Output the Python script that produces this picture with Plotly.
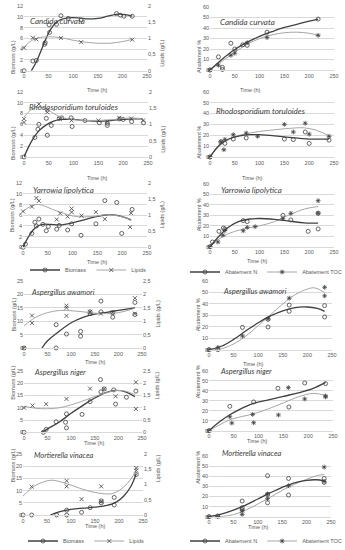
import plotly.graph_objects as go

# ---------------- data ----------------
TIME_TICKS = [0, 50, 100, 150, 200, 250]

# Candida curvata
CC_BIO_T = [0, 18, 25, 42, 43, 51, 52, 66, 75, 90, 116, 188, 196, 203, 220]
CC_BIO = [0, 1.8, 1.9, 4.9, 5.2, 8.5, 7.1, 8.6, 10.2, 9.7, 9.4, 10.6, 10.3, 10.1, 10.1]
CC_LIP_T = [0, 18, 25, 75, 116, 220]
CC_LIP = [0.71, 1.02, 0.97, 1.01, 0.88, 0.96]
CC_BIO_FIT_T = [15, 25, 35, 45, 55, 65, 75, 90, 110, 130, 150, 170, 190, 205, 220]
CC_BIO_FIT = [0, 1.6, 3.8, 6.0, 7.8, 8.9, 9.5, 9.8, 9.8, 9.6, 9.7, 10.1, 10.5, 10.4, 10.1]
CC_LIP_FIT_T = [0, 15, 30, 50, 75, 100, 125, 150, 175, 200, 220]
CC_LIP_FIT = [0.72, 0.93, 1.02, 1.05, 1.02, 0.94, 0.88, 0.85, 0.85, 0.90, 0.97]
CC_N_T = [0, 17, 25, 25, 42, 50, 66, 75, 115, 218]
CC_N = [0, 12.5, 2.5, 0.5, 25.5, 20, 24, 23.5, 36, 48.5]
CC_TOC_T = [0, 17, 42, 50, 75, 115, 218]
CC_TOC = [0, 4.5, 14, 16, 26, 31, 33]
CC_N_FIT_T = [0, 25, 50, 75, 100, 125, 150, 175, 200, 218]
CC_N_FIT = [0, 10.5, 19.5, 26.5, 32, 36.5, 40.5, 43.5, 46.5, 48.5]
CC_TOC_FIT_T = [0, 25, 50, 75, 100, 125, 150, 175, 200, 218]
CC_TOC_FIT = [0, 8.5, 17, 24.5, 30, 33.5, 35.5, 36, 35, 33]

# Rhodosporidium toruloides
RT_BIO_T = [0, 22, 28, 30, 45, 47, 55, 71, 76, 95, 97, 123, 152, 168, 168, 193, 200, 217, 241]
RT_BIO = [0, 3.6, 5.1, 6.0, 7.1, 4.0, 5.8, 7.1, 7.2, 7.2, 5.6, 6.7, 6.3, 6.2, 5.8, 7.0, 6.9, 6.5, 6.3]
RT_LIP_T = [0, 0, 30, 47, 47, 72, 96, 150, 168, 192, 216, 240]
RT_LIP = [1.17, 1.06, 1.62, 1.45, 1.37, 1.17, 1.12, 1.12, 1.08, 1.2, 1.18, 1.12]
RT_BIO_FIT_T = [0, 10, 20, 30, 45, 60, 75, 100, 125, 150, 175, 200, 220, 240]
RT_BIO_FIT = [0, 2.0, 3.6, 4.8, 5.9, 6.6, 6.9, 6.9, 6.7, 6.6, 6.7, 6.9, 7.0, 7.0]
RT_LIP_FIT_T = [0, 15, 30, 45, 60, 75, 100, 125, 150, 175, 200, 220, 240]
RT_LIP_FIT = [1.22, 1.45, 1.53, 1.48, 1.33, 1.22, 1.14, 1.12, 1.12, 1.14, 1.18, 1.19, 1.17]
RT_N_T = [0, 22, 30, 47, 73, 150, 168, 192, 200, 240]
RT_N = [0, 14, 12.5, 16.5, 17.5, 16.5, 16, 23, 12.5, 15.5]
RT_TOC_T = [0, 22, 28, 30, 47, 73, 96, 150, 168, 192, 200, 240]
RT_TOC = [0, 14, 6.7, 16.2, 20.5, 22, 19, 30, 23, 31, 21, 19]
RT_N_FIT_T = [0, 20, 40, 60, 80, 100, 130, 160, 200, 240]
RT_N_FIT = [0, 11.5, 17, 19.5, 20.5, 20.5, 19.5, 18, 16.5, 16.5]
RT_TOC_FIT_T = [0, 20, 40, 60, 80, 100, 130, 160, 190, 215, 240]
RT_TOC_FIT = [0, 10.5, 16.5, 20, 22, 23.5, 25, 26.3, 26.8, 24.5, 19.5]

# Yarrowia lipolytica
YL_BIO_T = [0, 5, 18, 24, 27, 32, 40, 47, 51, 68, 73, 90, 98, 117, 147, 165, 189, 199, 220]
YL_BIO = [0, 0.6, 2.6, 4.7, 4.0, 5.3, 4.3, 3.1, 3.9, 3.4, 4.1, 3.25, 4.4, 2.25, 4.4, 8.75, 8.4, 2.6, 7.1]
YL_LIP_T = [0, 18, 27, 32, 68, 75, 90, 98, 98, 118, 147, 165, 216, 218]
YL_LIP = [1.12, 1.27, 1.54, 1.45, 0.87, 1.06, 0.96, 1.21, 1.1, 0.99, 1.1, 0.88, 0.63, 1.07]
YL_BIO_FIT_T = [0, 10, 20, 30, 40, 55, 75, 100, 125, 150, 170, 190, 205, 218]
YL_BIO_FIT = [0, 1.8, 3.2, 4.0, 4.3, 4.3, 4.2, 4.6, 5.2, 5.8, 6.1, 6.0, 5.6, 5.1]
YL_LIP_FIT_T = [0, 15, 30, 45, 60, 75, 100, 125, 150, 170, 195, 218]
YL_LIP_FIT = [1.12, 1.28, 1.34, 1.28, 1.18, 1.10, 0.98, 0.95, 0.98, 1.02, 0.97, 0.87]
YL_N_T = [0, 5, 18, 27, 30, 67, 75, 147, 163, 198, 218, 218]
YL_N = [0, 4.5, 14.7, 17.9, 17, 25, 24, 30, 25.6, 14.7, 32, 17]
YL_TOC_T = [0, 16, 26, 30, 67, 75, 91, 147, 163, 218, 218]
YL_TOC = [0, 4.5, 11, 15.5, 15.3, 18.5, 19.2, 26.8, 31.9, 44, 32]
YL_N_FIT_T = [0, 20, 40, 60, 80, 100, 130, 160, 190, 218]
YL_N_FIT = [0, 11, 19.5, 24.5, 26.5, 27, 26.2, 24.5, 22.8, 22.5]
YL_TOC_FIT_T = [0, 20, 40, 60, 80, 100, 130, 160, 190, 218]
YL_TOC_FIT = [0, 8, 13, 16, 18.2, 20, 24, 30.5, 36, 38.5]

# Aspergillus awamori
AA_BIO_T = [0, 68, 68, 90, 120, 120, 140, 140, 163, 163, 188, 188, 235, 235]
AA_BIO = [0, 0, 8.7, 5.2, 6.2, 4.4, 13.5, 12.8, 17.5, 13.5, 11.5, 13.2, 17, 12.5]
AA_LIP_T = [0, 17, 17, 90, 90, 90, 140, 163, 188, 235, 235]
AA_LIP = [0, 1.21, 0.93, 1.58, 1.5, 1.2, 1.35, 1.28, 1.33, 1.86, 1.28]
AA_BIO_FIT_T = [38, 50, 75, 100, 125, 150, 175, 200, 235]
AA_BIO_FIT = [0, 2.7, 6.3, 9.4, 11.4, 12.6, 13.3, 14.0, 15.0]
AA_LIP_FIT_T = [0, 25, 50, 75, 100, 125, 150, 175, 200, 235]
AA_LIP_FIT = [0.83, 1.15, 1.32, 1.40, 1.39, 1.35, 1.30, 1.28, 1.32, 1.48]
AA_N_T = [0, 18, 68, 120, 120, 163, 163, 235, 235]
AA_N = [0, 0, 19.5, 19.8, 26.5, 39, 33.5, 38.5, 28.6]
AA_TOC_T = [0, 18, 68, 120, 163, 235, 235]
AA_TOC = [0, 2, 12, 27, 45, 54.5, 47]
AA_N_FIT_T = [0, 25, 50, 75, 100, 125, 150, 175, 200, 220, 235]
AA_N_FIT = [0, 3, 9, 16.5, 23.5, 29.5, 34, 36.8, 37.3, 36, 33.5]
AA_TOC_FIT_T = [0, 25, 50, 75, 100, 125, 150, 175, 200, 215, 235]
AA_TOC_FIT = [0, 0.8, 5, 12, 21, 30.5, 40, 48, 53, 54, 50]

# Aspergillus niger
AN_BIO_T = [0, 41, 47, 68, 88, 90, 90, 123, 140, 162, 163, 170, 190, 194, 217, 237]
AN_BIO = [0, 0, 1.2, 4.3, 4.1, 1.8, 7.5, 7.3, 12.5, 21.5, 16.5, 17.7, 17.3, 11.5, 14.3, 16.8]
AN_LIP_T = [0, 18, 47, 90, 140, 170, 194, 237, 237]
AN_LIP = [1.0, 1.09, 1.15, 1.36, 1.78, 1.77, 1.47, 2.04, 0.95]
AN_BIO_FIT_T = [38, 50, 75, 100, 125, 150, 175, 195, 215, 235]
AN_BIO_FIT = [0, 1.4, 4.2, 7.8, 11.0, 14.0, 16.3, 17.1, 16.5, 14.5]
AN_LIP_FIT_T = [0, 25, 50, 75, 100, 125, 150, 175, 195, 215, 235]
AN_LIP_FIT = [1.06, 0.98, 0.96, 1.0, 1.12, 1.28, 1.46, 1.62, 1.70, 1.68, 1.53]
AN_N_T = [0, 42, 90, 139, 161, 193, 235]
AN_N = [0, 24.5, 28.9, 42.6, 23.8, 48, 47.3]
AN_TOC_T = [0, 42, 46, 88, 90, 140, 160, 193, 235, 235]
AN_TOC = [0, 14, 7.7, 16.4, 8, 15.8, 43.3, 31.9, 34.9, 34]
AN_N_FIT_T = [0, 20, 42, 60, 90, 120, 150, 180, 210, 235]
AN_N_FIT = [0, 8.5, 16, 21, 27.5, 31, 34.5, 38, 42.5, 48.5]
AN_TOC_FIT_T = [0, 20, 42, 60, 90, 120, 150, 180, 210, 235]
AN_TOC_FIT = [0, 5.5, 11, 13.5, 17, 22, 28, 34, 37.5, 35.5]

# Mortierella vinacea
MV_BIO_T = [0, 18, 70, 91, 91, 122, 140, 163, 163, 190, 190, 236]
MV_BIO = [0, 0, 0, 0, 2.0, 1.1, 3.0, 5.0, 5.8, 7.2, 4.1, 16.6]
MV_LIP_T = [18, 91, 91, 122, 163, 163, 236, 236]
MV_LIP = [0.93, 1.12, 0.94, 0.52, 0.94, 0.44, 1.54, 1.46]
MV_BIO_FIT_T = [57, 75, 100, 125, 150, 175, 195, 210, 225, 236]
MV_BIO_FIT = [0, 1.3, 2.3, 2.8, 3.2, 3.9, 5.4, 7.8, 11.8, 17.0]
MV_LIP_FIT_T = [0, 25, 50, 62, 75, 100, 125, 150, 175, 190, 210, 225, 236]
MV_LIP_FIT = [0.62, 0.96, 1.12, 1.14, 1.10, 0.98, 0.84, 0.74, 0.69, 0.72, 0.92, 1.18, 1.48]
MV_N_T = [0, 18, 68, 68, 68, 120, 120, 120, 163, 163, 236, 236]
MV_N = [0, 0.7, 15.5, 8.9, 7, 40.5, 13.8, 22, 37.8, 21.4, 37.8, 33.9]
MV_TOC_T = [0, 18, 68, 68, 120, 120, 163, 236, 236]
MV_TOC = [0, 0, 5.9, 2.3, 22.4, 17.8, 30.6, 49, 34.9]
MV_N_FIT_T = [0, 25, 50, 75, 100, 125, 150, 175, 200, 220, 236]
MV_N_FIT = [0, 2.5, 6.5, 11.5, 17.5, 23.5, 29, 33.5, 36, 36.5, 35.5]
MV_TOC_FIT_T = [0, 20, 50, 75, 100, 125, 150, 175, 200, 220, 236]
MV_TOC_FIT = [0, 0, 2, 6.5, 12.5, 19, 26, 32, 37, 40.5, 41.8]

# ---------------- style ----------------
W, H = 345, 550
FONT = "Liberation Sans"
DARK = "#404040"
LIGHT = "#a6a6a6"
GREY = "#595959"
GRID = "#d9d9d9"
TICKFONT = dict(family=FONT, size=5.5, color=GREY)
TITLEFONT = dict(family=FONT, size=5.5, color=GREY)

fig = go.Figure()
axes = {}
annotations = []
counter = {"x": 0, "y": 0}


def aname(kind, n):
    return f"{kind}axis" + ("" if n == 1 else str(n))


def aref(kind, n):
    return kind + ("" if n == 1 else str(n))


def fx(p):
    return p / W


def fy(p):
    return 1 - p / H


def panel(xl, xr, ybot, ytop, yrange, ydtick, ytitle, species, title_pos, title_size,
          xtitle_pos, y2=None):
    counter["x"] += 1
    counter["y"] += 1
    xn, yn = counter["x"], counter["y"]
    axes[aname("x", xn)] = dict(
        domain=[fx(xl), fx(xr)], anchor=aref("y", yn), range=[0, 250],
        tickvals=TIME_TICKS, ticks="", showgrid=False, zeroline=False,
        showline=True, linecolor=GRID, linewidth=0.8, tickfont=TICKFONT,
        fixedrange=True, automargin=False)
    axes[aname("y", yn)] = dict(
        domain=[fy(ybot), fy(ytop)], anchor=aref("x", xn), range=yrange,
        dtick=ydtick, tick0=0, ticks="", showgrid=True, gridcolor=GRID,
        gridwidth=0.6, zeroline=False, tickfont=TICKFONT, fixedrange=True,
        automargin=False)
    y2ref = None
    if y2 is not None:
        counter["y"] += 1
        y2n = counter["y"]
        axes[aname("y", y2n)] = dict(
            overlaying=aref("y", yn), anchor=aref("x", xn), side="right",
            range=y2[0], dtick=y2[1], tick0=0, ticks="", showgrid=False,
            zeroline=False, tickfont=TICKFONT, fixedrange=True, automargin=False)
        y2ref = aref("y", y2n)
        annotations.append(dict(text="Lipids (g/L)", xref="paper", yref="paper",
                                x=fx(xr + 15), y=fy((ybot + ytop) / 2), textangle=-90,
                                showarrow=False, font=TITLEFONT))
    # axis titles
    annotations.append(dict(text=ytitle, xref="paper", yref="paper",
                            x=fx(xl - (16 if y2 is not None else 11)),
                            y=fy((ybot + ytop) / 2), textangle=-90,
                            showarrow=False, font=TITLEFONT))
    annotations.append(dict(text="Time (h)", xref="paper", yref="paper",
                            x=fx(xtitle_pos[0]), y=fy(xtitle_pos[1]),
                            showarrow=False, font=TITLEFONT))
    annotations.append(dict(text=f"<i>{species}</i>", xref="paper", yref="paper",
                            x=fx(title_pos[0]), y=fy(title_pos[1]), xanchor="left",
                            showarrow=False,
                            font=dict(family="Lato", size=title_size, color=DARK)))
    return aref("x", xn), aref("y", yn), y2ref


def fit_line(x, y, xr, yr, color, width):
    fig.add_trace(go.Scatter(x=x, y=y, xaxis=xr, yaxis=yr, mode="lines",
                             line=dict(color=color, width=width, shape="spline",
                                       smoothing=1.0),
                             showlegend=False, hoverinfo="skip", cliponaxis=True))


def points(x, y, xr, yr, symbol, color, size=4):
    fig.add_trace(go.Scatter(x=x, y=y, xaxis=xr, yaxis=yr, mode="markers",
                             marker=dict(symbol=symbol, size=size, color=color,
                                         line=dict(color=color, width=0.8)),
                             showlegend=False, cliponaxis=False))


def bio_panel(xr, yr, y2r, bt, b, lt, l, bft, bf, lft, lf):
    fit_line(lft, lf, xr, y2r, LIGHT, 1.0)
    fit_line(bft, bf, xr, yr, DARK, 1.3)
    points(lt, l, xr, y2r, "x-thin-open", DARK)
    points(bt, b, xr, yr, "circle-open", DARK)


def ab_panel(xr, yr, nt, n, tt, t, nft, nf, tft, tf):
    fit_line(tft, tf, xr, yr, LIGHT, 1.0)
    fit_line(nft, nf, xr, yr, DARK, 1.3)
    points(tt, t, xr, yr, "asterisk-open", DARK)
    points(nt, n, xr, yr, "circle-open", DARK)


# ---- row 1: Candida curvata
x, y, y2 = panel(24, 147, 70.7, 6, [0, 12], 2, "Biomass (g/L)", "Candida curvata",
                 (28, 14), 8, (85, 85), y2=([0, 2], 0.5))
bio_panel(x, y, y2, CC_BIO_T, CC_BIO, CC_LIP_T, CC_LIP, CC_BIO_FIT_T, CC_BIO_FIT,
          CC_LIP_FIT_T, CC_LIP_FIT)
x, y, _ = panel(210, 334, 70, 7, [0, 60], 10, "Abatement %", "Candida curvata",
                (218, 15), 8, (262, 85))
ab_panel(x, y, CC_N_T, CC_N, CC_TOC_T, CC_TOC, CC_N_FIT_T, CC_N_FIT,
         CC_TOC_FIT_T, CC_TOC_FIT)

# ---- row 2: Rhodosporidium toruloides
x, y, y2 = panel(24, 148, 157, 91.7, [0, 12], 2, "Biomass (g/L)",
                 "Rhodosporidium toruloides", (27, 100), 8, (85, 173), y2=([0, 2], 0.5))
bio_panel(x, y, y2, RT_BIO_T, RT_BIO, RT_LIP_T, RT_LIP, RT_BIO_FIT_T, RT_BIO_FIT,
          RT_LIP_FIT_T, RT_LIP_FIT)
x, y, _ = panel(210, 334, 157, 91.7, [0, 60], 10, "Abatement %",
                "Rhodosporidium toruloides", (214, 104), 8, (264, 173))
ab_panel(x, y, RT_N_T, RT_N, RT_TOC_T, RT_TOC, RT_N_FIT_T, RT_N_FIT,
         RT_TOC_FIT_T, RT_TOC_FIT)

# ---- row 3: Yarrowia lipolytica
x, y, y2 = panel(23, 147, 247.3, 183.3, [0, 12], 2, "Biomass (g/L)",
                 "Yarrowia lipolytica", (31, 190), 8, (85, 262), y2=([0, 2], 0.5))
bio_panel(x, y, y2, YL_BIO_T, YL_BIO, YL_LIP_T, YL_LIP, YL_BIO_FIT_T, YL_BIO_FIT,
          YL_LIP_FIT_T, YL_LIP_FIT)
x, y, _ = panel(210, 334, 246.7, 184, [0, 60], 10, "Abatement %",
                "Yarrowia lipolytica", (219, 190), 8, (269, 261))
ab_panel(x, y, YL_N_T, YL_N, YL_TOC_T, YL_TOC, YL_N_FIT_T, YL_N_FIT,
         YL_TOC_FIT_T, YL_TOC_FIT)

# ---- row 4: Aspergillus awamori
x, y, y2 = panel(24, 142, 348, 281, [0, 25], 5, "Biomass (g/L)",
                 "Aspergillus awamori", (29, 292), 7.5, (83, 362), y2=([0, 2.5], 0.5))
bio_panel(x, y, y2, AA_BIO_T, AA_BIO, AA_LIP_T, AA_LIP, AA_BIO_FIT_T, AA_BIO_FIT,
          AA_LIP_FIT_T, AA_LIP_FIT)
x, y, _ = panel(209, 332, 349.7, 281, [0, 60], 10, "Abatement %",
                "Aspergillus awamori", (221, 291), 7.5, (265, 364))
ab_panel(x, y, AA_N_T, AA_N, AA_TOC_T, AA_TOC, AA_N_FIT_T, AA_N_FIT,
         AA_TOC_FIT_T, AA_TOC_FIT)

# ---- row 5: Aspergillus niger
x, y, y2 = panel(24, 142, 432.3, 371, [0, 25], 5, "Biomass (g/L)",
                 "Aspergillus niger", (32, 379), 7.5, (82, 447.5), y2=([0, 2.5], 0.5))
bio_panel(x, y, y2, AN_BIO_T, AN_BIO, AN_LIP_T, AN_LIP, AN_BIO_FIT_T, AN_BIO_FIT,
          AN_LIP_FIT_T, AN_LIP_FIT)
x, y, _ = panel(209, 333, 430.7, 371, [0, 60], 10, "Abatement %",
                "Aspergillus niger", (218, 378), 7.5, (269, 446))
ab_panel(x, y, AN_N_T, AN_N, AN_TOC_T, AN_TOC, AN_N_FIT_T, AN_N_FIT,
         AN_TOC_FIT_T, AN_TOC_FIT)

# ---- row 6: Mortierella vinacea
x, y, y2 = panel(23, 143, 515, 454, [0, 25], 5, "Biomass (g/L)",
                 "Mortierella vinacea", (32, 462), 7.5, (83, 530.5), y2=([0, 2], 0.5))
bio_panel(x, y, y2, MV_BIO_T, MV_BIO, MV_LIP_T, MV_LIP, MV_BIO_FIT_T, MV_BIO_FIT,
          MV_LIP_FIT_T, MV_LIP_FIT)
x, y, _ = panel(209, 331, 516.7, 456, [0, 60], 10, "Abatement %",
                "Mortierella vinacea", (220, 460), 7.5, (270, 532))
ab_panel(x, y, MV_N_T, MV_N, MV_TOC_T, MV_TOC, MV_N_FIT_T, MV_N_FIT,
         MV_TOC_FIT_T, MV_TOC_FIT)

# ---- legends (legend-only entries)
LEG = [("legend", "bio"), ("legend2", "ab"), ("legend3", "bio"), ("legend4", "ab")]
for lg, kind in LEG:
    if kind == "bio":
        items = [("Biomass", DARK, 1.3, "circle-open"), ("Lipids", LIGHT, 1.0, "x-thin-open")]
    else:
        items = [("Abatement N", DARK, 1.3, "circle-open"),
                 ("Abatement TOC", LIGHT, 1.0, "asterisk-open")]
    for name, col, wdt, sym in items:
        fig.add_trace(go.Scatter(x=[None], y=[None], mode="lines+markers", name=name,
                                 line=dict(color=col, width=wdt),
                                 marker=dict(symbol=sym, size=4, color=DARK,
                                             line=dict(color=DARK, width=0.8)),
                                 legend=lg, showlegend=True, xaxis="x", yaxis="y"))

legend_common = dict(orientation="h", yanchor="middle", xanchor="center",
                     font=dict(family=FONT, size=5.5, color=GREY),
                     bgcolor="rgba(0,0,0,0)", itemwidth=30, tracegroupgap=0)

fig.update_layout(
    width=W, height=H, margin=dict(l=0, r=0, t=0, b=0, autoexpand=False),
    paper_bgcolor="white", plot_bgcolor="white", separators=", ",
    font=dict(family=FONT, color=GREY),
    annotations=annotations,
    legend=dict(x=fx(88), y=fy(270), **legend_common),
    legend2=dict(x=fx(266), y=fy(272), **legend_common),
    legend3=dict(x=fx(86), y=fy(541), **legend_common),
    legend4=dict(x=fx(266), y=fy(541), **legend_common),
    **axes,
)

fig.write_html("out.html",
               config={"displayModeBar": False, "staticPlot": False},
               post_script="document.body.style.margin='0';"
                           "document.body.style.padding='0';")
